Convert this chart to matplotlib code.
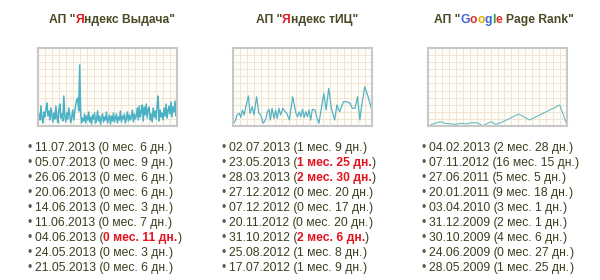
import matplotlib
matplotlib.use("Agg")
import matplotlib.pyplot as plt
import numpy as np
from matplotlib.transforms import IdentityTransform

# --- data ---
titles = [
    [('АП "', "title"), ("Я", "red"), ('ндекс Выдача"', "title")],
    [('АП "', "title"), ("Я", "red"), ('ндекс тИЦ"', "title")],
    [('АП "', "title"), ("G", "gblue"), ("o", "gred"), ("o", "gyellow"),
     ("g", "gblue"), ("l", "ggreen"), ("e", "gred"), (' Page Rank"', "title")],
]

vydacha = [4, 12, 6, 20, 8, 3, 14, 9, 17, 23,
           10, 15, 6, 18, 11, 4, 13, 7, 20, 9,
           3, 16, 22, 8, 12, 5, 30, 10, 4, 13,
           7, 18, 11, 3, 9, 16, 6, 14, 21, 26,
           28, 15, 61, 12, 3,
           8, 5, 12, 3, 10, 6, 14, 4, 9, 2, 11, 7, 13, 3, 6, 15, 5, 10, 2, 8,
           12, 4, 9, 6, 14, 3, 7, 11, 2, 10, 5, 13, 4, 8, 12, 3, 9, 6, 15, 4,
           10, 7, 12, 3, 8, 14, 5, 11, 6, 9, 16, 4, 12, 7, 10,
           18, 6, 20, 9, 14, 21, 5, 19, 11, 22, 8, 17, 19, 6, 12, 4, 18, 9, 15, 7,
           20, 30, 5, 16, 9, 13, 6, 18, 10, 22, 8, 15, 20, 12, 24, 9, 19, 14, 25, 10, 16]

tic_x = [10, 15, 20, 27, 32, 37, 42, 47, 55, 60, 67, 72, 80, 87, 93, 100, 107, 113,
         118, 122, 127, 133, 138, 143, 148, 153, 160, 167, 172, 180, 190, 200, 205,
         210, 215, 220, 225, 230, 235, 240, 245, 250, 258, 263, 270, 285, 292, 300,
         308, 318, 325, 333, 345, 355, 365, 372, 380, 388, 395, 400, 410, 420, 430]
tic_y = [2.7, 5.3, 11, 12.7, 8.7, 16, 11, 19.3, 30, 12.7, 19.3, 11, 29.3, 12.7, 11,
         2.7, 6, 14.3, 16.7, 6, 17.7, 7.7, 16, 7.7, 17.7, 11, 17.7, 14.3, 12.7, 6,
         29.3, 12.7, 9.3, 14.3, 9.3, 16.7, 8.7, 14.3, 9.3, 16, 6, 16.7, 16, 9.3, 2.7,
         32.7, 16, 37.7, 17.7, 6, 21, 14.3, 24.3, 24.3, 22.7, 17.7, 17.7, 29.3, 6,
         19.3, 39.3, 29.3, 17.7]

pr_x = [10, 20, 45, 60, 90, 110, 125, 140, 160, 175, 200, 215, 230, 285, 318, 410, 430]
pr_y = [0, 1.7, 4.3, 2.7, 1.7, 2.7, 2, 3.3, 3, 0.3, 4.3, 1.7, 3.3, 12, 6, 21, 2.7]

lists = [
    [("11.07.2013", "0 мес. 6 дн.", False), ("05.07.2013", "0 мес. 9 дн.", False),
     ("26.06.2013", "0 мес. 6 дн.", False), ("20.06.2013", "0 мес. 6 дн.", False),
     ("14.06.2013", "0 мес. 3 дн.", False), ("11.06.2013", "0 мес. 7 дн.", False),
     ("04.06.2013", "0 мес. 11 дн.", True), ("24.05.2013", "0 мес. 3 дн.", False),
     ("21.05.2013", "0 мес. 6 дн.", False)],
    [("02.07.2013", "1 мес. 9 дн.", False), ("23.05.2013", "1 мес. 25 дн.", True),
     ("28.03.2013", "2 мес. 30 дн.", True), ("27.12.2012", "0 мес. 20 дн.", False),
     ("07.12.2012", "0 мес. 17 дн.", False), ("20.11.2012", "0 мес. 20 дн.", False),
     ("31.10.2012", "2 мес. 6 дн.", True), ("25.08.2012", "1 мес. 8 дн.", False),
     ("17.07.2012", "1 мес. 9 дн.", False)],
    [("04.02.2013", "2 мес. 28 дн.", False), ("07.11.2012", "16 мес. 15 дн.", False),
     ("27.06.2011", "5 мес. 5 дн.", False), ("20.01.2011", "9 мес. 18 дн.", False),
     ("03.04.2010", "3 мес. 1 дн.", False), ("31.12.2009", "2 мес. 1 дн.", False),
     ("30.10.2009", "4 мес. 6 дн.", False), ("24.06.2009", "0 мес. 27 дн.", False),
     ("28.05.2009", "1 мес. 25 дн.", False)],
]

colors = {"title": "#4a4a26", "text": "#3d3d1f", "red": "#e3141e", "bullet": "#5a5a4a",
          "gblue": "#3c63d8", "gred": "#d93025", "gyellow": "#e5ad00", "ggreen": "#2f9e44"}

W, H = 600, 280
FONT = "Liberation Sans"
SIZE = 8.7

fig = plt.figure(figsize=(6, 2.8), dpi=100)
fig.patch.set_facecolor("white")
renderer = fig.canvas.get_renderer()


def text_width(s, weight):
    t = fig.text(0, 0, s, fontsize=SIZE, family=FONT, weight=weight,
                 transform=IdentityTransform())
    w = t.get_window_extent(renderer).width
    t.remove()
    return w


space_b = text_width("a a", "bold") - text_width("aa", "bold")


def draw_parts(x, y_top, parts, center=False):
    # parts: (string, colorkey, weight); y_top is baseline from top, in px
    widths = []
    for s, c, wt in parts:
        lead = space_b if s.startswith(" ") else 0
        widths.append(lead + text_width(s.lstrip(" "), wt))
    if center:
        x = x - sum(widths) / 2
    for (s, c, wt), w in zip(parts, widths):
        lead = space_b if s.startswith(" ") else 0
        fig.text(x + lead, H - y_top, s.lstrip(" "), fontsize=SIZE, family=FONT,
                 weight=wt, color=colors[c], va="baseline",
                 transform=IdentityTransform())
        x += w


def make_axes(left):
    ax = fig.add_axes([left / W, (H - 126) / H, 139 / W, 78 / H])
    ax.set_facecolor("#fffdf7")
    for sp in ax.spines.values():
        sp.set_color("#c8c8c8")
        sp.set_linewidth(1.5)
    ax.tick_params(length=0, labelbottom=False, labelleft=False)
    return ax


def set_grid(ax, x0, x1):
    ax.set_xlim(x0, x1)
    ax.set_ylim(0, 78)
    ax.set_xticks(np.linspace(x0, x1, 21))
    ax.set_yticks(np.linspace(0, 78, 12))
    ax.grid(True, color="#efe4d4", linewidth=0.7)
    ax.set_axisbelow(True)


ax1 = make_axes(38)
set_grid(ax1, 0, len(vydacha) - 1)
ax1.plot(np.arange(len(vydacha)), vydacha, color="#4bb1c6", lw=1.1)

ax2 = make_axes(233)
set_grid(ax2, 8, 432)
ax2.plot(tic_x, tic_y, color="#55b3c5", lw=0.9)

ax3 = make_axes(428)
set_grid(ax3, 8, 432)
ax3.plot(pr_x, pr_y, color="#68bcc2", lw=0.8)

title_cx = [112, 307, 504]
for cx, parts in zip(title_cx, titles):
    draw_parts(cx, 23, [(s, c, "bold") for s, c in parts], center=True)

list_x = [27, 221, 421]
for lx, items in zip(list_x, lists):
    for i, (date, gap, hot) in enumerate(items):
        y = 151 + i * 15
        bw = text_width("• ", "normal")
        fig.text(lx, H - y, "•", fontsize=SIZE, family=FONT, color=colors["bullet"],
                 va="baseline", transform=IdentityTransform())
        draw_parts(lx + text_width("•", "normal") + 3.3, y,
                   [(date + " (", "text", "normal"),
                    (gap, "red" if hot else "text", "bold" if hot else "normal"),
                    (")", "text", "normal")])

fig.savefig("out.png", dpi=100)
